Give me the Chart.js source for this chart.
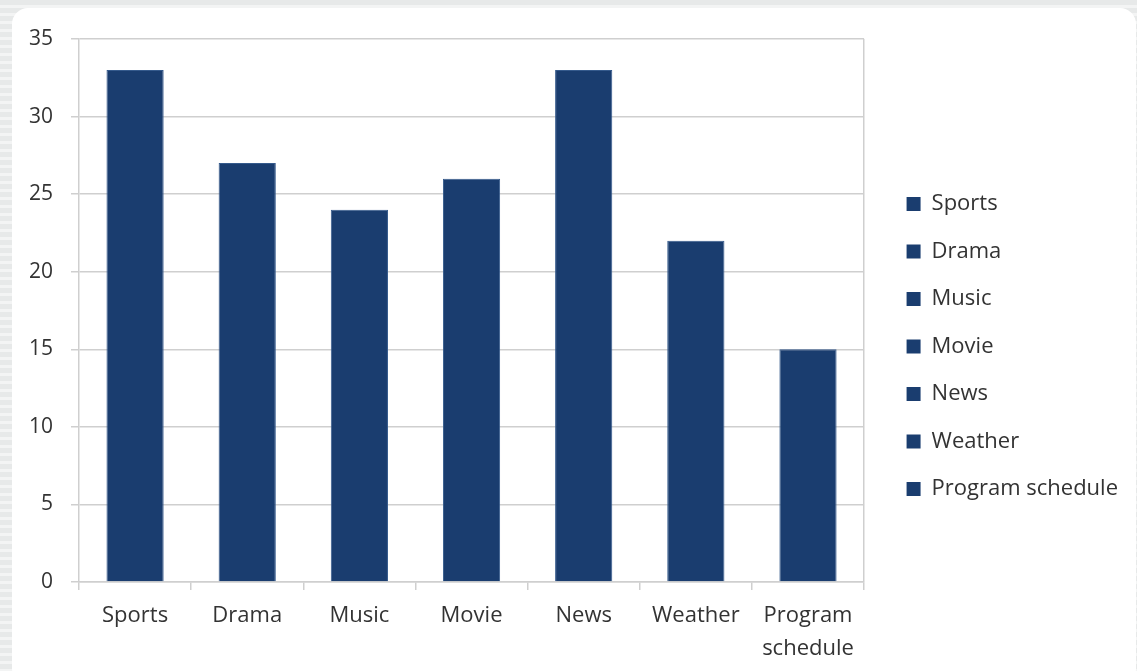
<!DOCTYPE html>
<html>
<head>
<meta charset="utf-8">
<script src="https://cdn.jsdelivr.net/npm/chart.js@4.4.1/dist/chart.umd.min.js"></script>
<style>
  html, body { margin: 0; padding: 0; }
  body {
    width: 1137px; height: 671px; overflow: hidden; position: relative;
    background: repeating-linear-gradient(to bottom, #e7e9e9 0px, #e7e9e9 5px, #f3f4f4 5px, #f3f4f4 8px);
  }
  .card {
    position: absolute; left: 12px; top: 8px; width: 1124px; height: 676px;
    background: #ffffff; border-radius: 16px;
  }
  .wrap { position: absolute; left: 0; top: 0; width: 1137px; height: 671px; }
</style>
</head>
<body>
<div class="card"></div>
<div class="wrap"><canvas id="myChart"></canvas></div>
<script>
const categories = ['Sports', 'Drama', 'Music', 'Movie', 'News', 'Weather', 'Program schedule'];
const tickLabels = ['Sports', 'Drama', 'Music', 'Movie', 'News', 'Weather', ['Program', 'schedule']];
const values = [33, 27, 24, 26, 33, 22, 15];

const barColor = '#1a3d6f';
const lineColor = '#cfcfcf';
const textColor = '#333333';
const font = { family: 'Open Sans', size: 22 };

function drawChart() {
    const ctx = document.getElementById('myChart');
    new Chart(ctx, {
        type: 'bar',
        data: {
            labels: tickLabels,
            datasets: [{
                label: 'Count',
                data: values,
                backgroundColor: barColor,
                borderColor: '#355a8c',
                borderWidth: 1,
                categoryPercentage: 1,
                barPercentage: 0.51
            }]
        },
        options: {
            responsive: true,
            maintainAspectRatio: false,
            animation: false,
            layout: { padding: { left: 27, top: 24, bottom: 2, right: 9 } },
            plugins: {
                tooltip: { enabled: false },
                legend: {
                    position: 'right',
                    maxWidth: 300,
                    labels: {
                        font: font,
                        color: textColor,
                        boxWidth: 14,
                        boxHeight: 14,
                        padding: 25.5,
                        generateLabels: () => categories.map((c, i) => ({
                            text: c,
                            fillStyle: barColor,
                            strokeStyle: barColor,
                            lineWidth: 0,
                            hidden: false,
                            index: i,
                            fontColor: textColor
                        }))
                    }
                }
            },
            scales: {
                x: {
                    ticks: { font: { ...font, lineHeight: 1.5 }, color: textColor, padding: 9, maxRotation: 0, autoSkip: false },
                    grid: {
                        // only the right edge of the plot gets a vertical line
                        color: (c) => c.type === 'tick' ? 'rgba(0,0,0,0)' : lineColor,
                        tickColor: lineColor,
                        tickLength: 8,
                        lineWidth: 1.5
                    },
                    border: { display: true, color: lineColor, width: 1.5 },
                    afterFit: (s) => { s.height = 87; }
                },
                y: {
                    min: 0,
                    max: 35,
                    ticks: { stepSize: 5, font: { family: 'Open Sans', size: 21, lineHeight: 2.0 }, color: textColor, padding: 18 },
                    grid: { color: lineColor, tickColor: lineColor, tickLength: 8, lineWidth: 1.5 },
                    border: { display: true, color: lineColor, width: 1.5 },
                    afterFit: (s) => { s.width = 52; }
                },
                gap: {
                    // empty spacer between plot and legend
                    position: 'right',
                    display: true,
                    ticks: { display: false },
                    grid: { display: false },
                    border: { display: false },
                    afterFit: (s) => { s.width = 17; }
                }
            }
        }
    });
}

document.fonts.load('22px "Open Sans"').then(drawChart, drawChart);
</script>
</body>
</html>
